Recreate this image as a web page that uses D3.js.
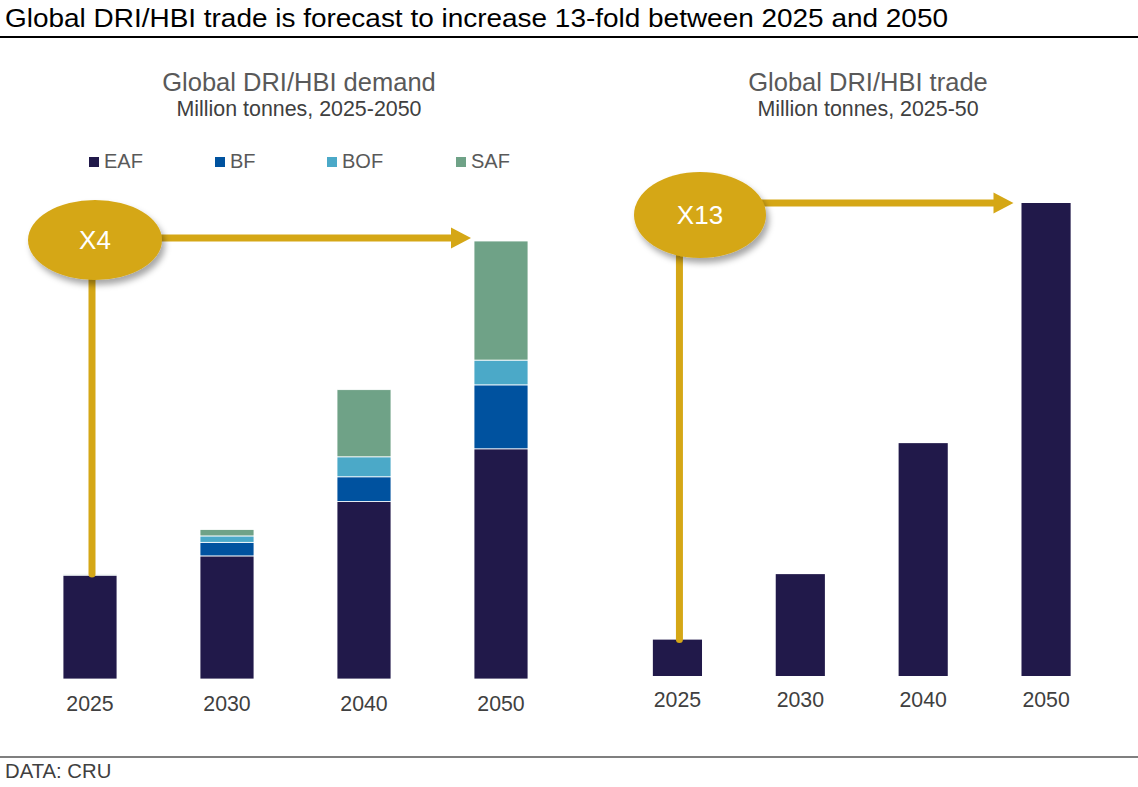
<!DOCTYPE html>
<html>
<head>
<meta charset="utf-8">
<script src="https://cdn.jsdelivr.net/npm/d3@7"></script>
<style>
  body { margin: 0; background: #fff; }
  svg { display: block; font-family: "Liberation Sans", Arial, Helvetica, sans-serif; }
</style>
</head>
<body>
<div id="chart"></div>
<script>
// data (million tonnes)
const years = ["2025", "2030", "2040", "2050"];
const routes = ["EAF", "BF", "BOF", "SAF"];
const eafDemand = [130, 154, 222, 288];
const bfDemand = [0.4, 17, 31, 80];
const bofDemand = [0.6, 8, 25, 31];
const safDemand = [0.4, 8, 84, 149];
const tradeValues = [10, 28, 64, 130];

const routeColors = ["#21194a", "#00529f", "#4ba9c8", "#6fa287"];
const gold = "#d5a716";
const W = 1138, H = 787;

const svg = d3.select("#chart").append("svg")
  .attr("width", W)
  .attr("height", H);

// drop shadow for the callout ellipses
const filter = svg.append("defs").append("filter")
  .attr("id", "shadow")
  .attr("x", "-30%").attr("y", "-30%")
  .attr("width", "160%").attr("height", "170%");
filter.append("feDropShadow")
  .attr("dx", 3).attr("dy", 5)
  .attr("stdDeviation", 3)
  .attr("flood-color", "#000")
  .attr("flood-opacity", 0.35);

// header
svg.append("text")
  .attr("x", 5).attr("y", 27)
  .attr("font-size", "25px")
  .attr("textLength", 943)
  .attr("lengthAdjust", "spacingAndGlyphs")
  .attr("fill", "#000")
  .text("Global DRI/HBI trade is forecast to increase 13-fold between 2025 and 2050");
svg.append("line")
  .attr("x1", 0).attr("x2", W)
  .attr("y1", 37).attr("y2", 37)
  .attr("stroke", "#000").attr("stroke-width", 2);

// footer
svg.append("line")
  .attr("x1", 0).attr("x2", W)
  .attr("y1", 757).attr("y2", 757)
  .attr("stroke", "#000").attr("stroke-width", 1.2);
svg.append("text")
  .attr("x", 5).attr("y", 778)
  .attr("font-size", "20.3px")
  .attr("fill", "#404040")
  .text("DATA: CRU");

// panel titles
function panelTitle(cx, title, sub) {
  svg.append("text")
    .attr("x", cx).attr("y", 91)
    .attr("text-anchor", "middle")
    .attr("font-size", "25.5px")
    .attr("fill", "#595959")
    .text(title);
  svg.append("text")
    .attr("x", cx).attr("y", 116)
    .attr("text-anchor", "middle")
    .attr("font-size", "21.4px")
    .attr("fill", "#404040")
    .text(sub);
}
panelTitle(299, "Global DRI/HBI demand", "Million tonnes, 2025-2050");
panelTitle(868, "Global DRI/HBI trade", "Million tonnes, 2025-50");

// ---------- left panel: stacked demand ----------
const rows = years.map((y, i) => ({
  year: y,
  EAF: eafDemand[i], BF: bfDemand[i], BOF: bofDemand[i], SAF: safDemand[i]
}));
const stacked = d3.stack().keys(routes)(rows);
const maxDemand = d3.max(rows, d => d.EAF + d.BF + d.BOF + d.SAF);

const xL = d3.scaleBand()
  .domain(years)
  .range([21.5, 569.5])
  .paddingInner(0.606)
  .paddingOuter(0.303);
const yL = d3.scaleLinear()
  .domain([0, maxDemand])
  .range([679, 241]);

const left = svg.append("g");
left.selectAll("g.layer")
  .data(stacked)
  .join("g")
  .attr("class", "layer")
  .attr("fill", (d, i) => routeColors[i])
  .selectAll("rect")
  .data(d => d)
  .join("rect")
  .attr("x", d => xL(d.data.year))
  .attr("width", xL.bandwidth())
  .attr("y", d => yL(d[1]))
  .attr("height", d => yL(d[0]) - yL(d[1]))
  .attr("stroke", "#fff")
  .attr("stroke-width", 0.8);

left.append("g")
  .attr("transform", "translate(0,679)")
  .call(d3.axisBottom(xL).tickSize(0).tickPadding(17))
  .call(g => g.select(".domain").remove())
  .call(g => g.selectAll("text")
    .attr("font-size", "21.3px")
    .attr("fill", "#404040")
    .attr("font-family", "Liberation Sans, Arial, sans-serif"));

// legend
const legendX = [89, 215, 327, 456];
const legend = svg.append("g");
routes.forEach((r, i) => {
  legend.append("rect")
    .attr("x", legendX[i]).attr("y", 157)
    .attr("width", 10).attr("height", 10)
    .attr("fill", routeColors[i]);
  legend.append("text")
    .attr("x", legendX[i] + 15).attr("y", 168)
    .attr("font-size", "20px")
    .attr("fill", "#595959")
    .text(r);
});

// ---------- right panel: trade ----------
const xR = d3.scaleBand()
  .domain(years)
  .range([616, 1107.5])
  .paddingInner(0.6)
  .paddingOuter(0.3);
const yR = d3.scaleLinear()
  .domain([0, d3.max(tradeValues)])
  .range([676, 203]);

const right = svg.append("g");
right.selectAll("rect")
  .data(tradeValues)
  .join("rect")
  .attr("x", (d, i) => xR(years[i]))
  .attr("width", xR.bandwidth())
  .attr("y", d => yR(d))
  .attr("height", d => yR(0) - yR(d))
  .attr("fill", routeColors[0]);

right.append("g")
  .attr("transform", "translate(0,676)")
  .call(d3.axisBottom(xR).tickSize(0).tickPadding(16))
  .call(g => g.select(".domain").remove())
  .call(g => g.selectAll("text")
    .attr("font-size", "21.3px")
    .attr("fill", "#404040")
    .attr("font-family", "Liberation Sans, Arial, sans-serif"));

// ---------- growth callouts ----------
function callout(opts) {
  const g = svg.append("g");
  // vertical stem down to the first bar
  g.append("line")
    .attr("x1", opts.stemX).attr("x2", opts.stemX)
    .attr("y1", opts.cy).attr("y2", opts.stemBottom)
    .attr("stroke", gold).attr("stroke-width", 7)
    .attr("stroke-linecap", "round");
  // horizontal arrow to the last bar
  g.append("line")
    .attr("x1", opts.cx).attr("x2", opts.tipX - 18)
    .attr("y1", opts.arrowY).attr("y2", opts.arrowY)
    .attr("stroke", gold).attr("stroke-width", 7);
  g.append("path")
    .attr("d", `M${opts.tipX - 20},${opts.arrowY - 10.5} L${opts.tipX},${opts.arrowY} L${opts.tipX - 20},${opts.arrowY + 10.5} Z`)
    .attr("fill", gold);
  g.append("ellipse")
    .attr("cx", opts.cx).attr("cy", opts.cy)
    .attr("rx", opts.rx).attr("ry", opts.ry)
    .attr("fill", gold)
    .attr("filter", "url(#shadow)");
  g.append("text")
    .attr("x", opts.cx).attr("y", opts.cy + 9)
    .attr("text-anchor", "middle")
    .attr("font-size", "26px")
    .attr("fill", "#fff")
    .text(opts.label);
}

const firstL = rows[0].EAF + rows[0].BF + rows[0].BOF + rows[0].SAF;
callout({
  label: "X" + Math.round(maxDemand / firstL),
  cx: 95, cy: 240, rx: 67, ry: 40,
  stemX: xL(years[0]) + xL.bandwidth() / 2 + 2,
  stemBottom: yL(firstL),
  arrowY: yL(maxDemand) - 3,
  tipX: xL(years[3]) - 3
});
callout({
  label: "X" + Math.round(tradeValues[3] / tradeValues[0]),
  cx: 700, cy: 215, rx: 66, ry: 43,
  stemX: xR(years[0]) + xR.bandwidth() / 2 + 2,
  stemBottom: yR(tradeValues[0]),
  arrowY: yR(tradeValues[3]),
  tipX: xR(years[3]) - 8
});
</script>
</body>
</html>
